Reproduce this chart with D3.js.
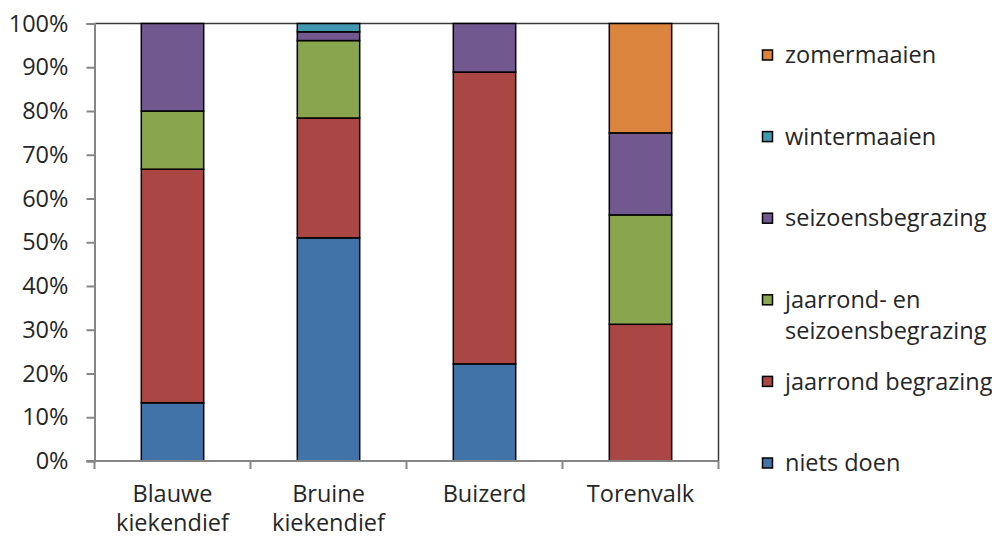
<!DOCTYPE html>
<html>
<head>
<meta charset="utf-8">
<script src="https://cdn.jsdelivr.net/npm/d3@7"></script>
<style>
  body { margin: 0; background: #fff; }
  svg text { font-family: "Open Sans", sans-serif; fill: #262626; }
</style>
</head>
<body>
<div id="chart"></div>
<script>
// categories (label lines) and series, bottom to top
const categories = ["Blauwe kiekendief", "Bruine kiekendief", "Buizerd", "Torenvalk"];
const categoryLines = [["Blauwe", "kiekendief"], ["Bruine", "kiekendief"], ["Buizerd"], ["Torenvalk"]];
const seriesNames = ["niets doen", "jaarrond begrazing", "jaarrond- en seizoensbegrazing", "seizoensbegrazing", "wintermaaien", "zomermaaien"];
const seriesColors = ["#4172a8", "#aa4643", "#89a54e", "#71588f", "#4198af", "#db843d"];
const legendLines = [["niets doen"], ["jaarrond begrazing"], ["jaarrond- en", "seizoensbegrazing"], ["seizoensbegrazing"], ["wintermaaien"], ["zomermaaien"]];

// shares per category, one array per series
const nietsDoen = [0.133, 0.51, 0.222, 0];
const jaarrondBegrazing = [0.534, 0.274, 0.667, 0.3125];
const jaarrondEnSeizoens = [0.133, 0.177, 0, 0.25];
const seizoensbegrazing = [0.2, 0.02, 0.111, 0.1875];
const wintermaaien = [0, 0.019, 0, 0];
const zomermaaien = [0, 0, 0, 0.25];
const yTicks = [0, 0.1, 0.2, 0.3, 0.4, 0.5, 0.6, 0.7, 0.8, 0.9, 1];

const seriesValues = [nietsDoen, jaarrondBegrazing, jaarrondEnSeizoens, seizoensbegrazing, wintermaaien, zomermaaien];

const width = 992, height = 538;
const plot = { left: 94.5, right: 718.5, top: 23.5, bottom: 461 };
const fontSize = 23.5;

const table = categories.map((c, i) => {
  const row = { cat: c };
  seriesNames.forEach((s, j) => (row[s] = seriesValues[j][i]));
  return row;
});

const stacked = d3.stack().keys(seriesNames)(table);

const svg = d3.select("#chart").append("svg")
  .attr("width", width)
  .attr("height", height);

const x = d3.scaleBand()
  .domain(categories)
  .range([plot.left, plot.right])
  .paddingInner(0.6)
  .paddingOuter(0.3);

const y = d3.scaleLinear().domain([0, 1]).range([plot.bottom, plot.top]);

// plot area border (top and right)
svg.append("path")
  .attr("d", `M${plot.left},${plot.top}H${plot.right}V${plot.bottom}`)
  .attr("fill", "none")
  .attr("stroke", "#3a3a3a")
  .attr("stroke-width", 1.5);

// bars
svg.append("g")
  .selectAll("g")
  .data(stacked)
  .join("g")
  .attr("fill", (d, i) => seriesColors[i])
  .selectAll("rect")
  .data(d => d.filter(p => p[1] - p[0] > 0))
  .join("rect")
  .attr("x", d => x(d.data.cat))
  .attr("width", x.bandwidth())
  .attr("y", d => y(d[1]))
  .attr("height", d => y(d[0]) - y(d[1]))
  .attr("stroke", "#000")
  .attr("stroke-width", 1.5);

// y axis
const yAxis = svg.append("g")
  .attr("transform", `translate(${plot.left},0)`)
  .call(d3.axisLeft(y).tickValues(yTicks).tickFormat(d3.format(".0%")).tickSize(8).tickPadding(18));
yAxis.select(".domain").attr("stroke", "#868686").attr("stroke-width", 2);
yAxis.selectAll(".tick line").attr("stroke", "#868686").attr("stroke-width", 2);
yAxis.selectAll(".tick text")
  .attr("font-size", fontSize)
  .attr("font-family", "Open Sans, sans-serif")
  .attr("fill", "#262626");

// x axis line with boundary ticks
const xg = svg.append("g");
xg.append("line")
  .attr("x1", plot.left - 8).attr("x2", plot.right)
  .attr("y1", plot.bottom).attr("y2", plot.bottom)
  .attr("stroke", "#868686").attr("stroke-width", 2);
const bounds = d3.range(categories.length + 1).map(i => plot.left + i * x.step());
xg.selectAll("line.b")
  .data(bounds)
  .join("line")
  .attr("class", "b")
  .attr("x1", d => d).attr("x2", d => d)
  .attr("y1", plot.bottom).attr("y2", plot.bottom + 8)
  .attr("stroke", "#868686").attr("stroke-width", 2);

xg.selectAll("text")
  .data(categories)
  .join("text")
  .attr("x", d => x(d) + x.bandwidth() / 2)
  .attr("y", 502)
  .attr("text-anchor", "middle")
  .attr("font-size", fontSize)
  .selectAll("tspan")
  .data((d, i) => categoryLines[i])
  .join("tspan")
  .attr("x", function () { return this.parentNode.getAttribute("x"); })
  .attr("dy", (d, i) => (i === 0 ? 0 : 29))
  .text(d => d);

// legend, top entry is last series
const legendOrder = d3.range(seriesNames.length).reverse();
const ly = d3.scalePoint().domain(legendOrder).range([55, 463]);
const legend = svg.append("g").selectAll("g")
  .data(legendOrder)
  .join("g")
  .attr("transform", d => `translate(762,${ly(d)})`);
legend.append("rect")
  .attr("x", 0.5).attr("y", -5)
  .attr("width", 10).attr("height", 10)
  .attr("fill", d => seriesColors[d])
  .attr("stroke", "#000")
  .attr("stroke-width", 1.5);
legend.append("text")
  .attr("x", 23)
  .attr("y", 0)
  .attr("font-size", fontSize)
  .selectAll("tspan")
  .data(d => legendLines[d])
  .join("tspan")
  .attr("x", 23)
  .attr("dy", (d, i) => (i === 0 ? "0.35em" : 31))
  .text(d => d);
</script>
</body>
</html>
